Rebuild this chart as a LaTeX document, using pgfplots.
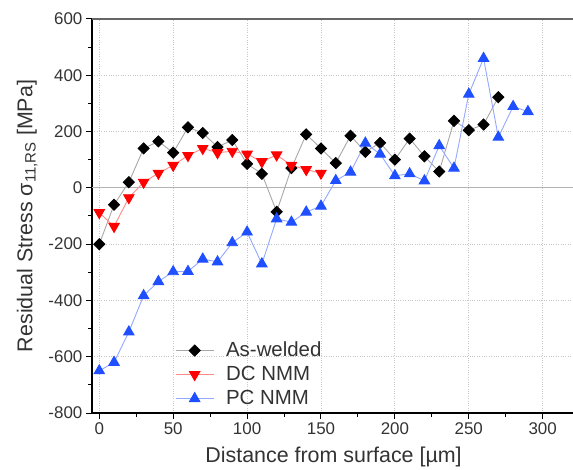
\documentclass[border=0pt]{standalone}
\usepackage{fontspec}
\setmainfont{Liberation Sans}
\usepackage{pgfplots}
\pgfplotsset{compat=1.18}
\definecolor{txt}{HTML}{333333}
\definecolor{awline}{HTML}{A8A8A8}
\definecolor{dcline}{HTML}{FF8A8A}
\definecolor{pcmark}{HTML}{1F4FFF}
\definecolor{pcline}{HTML}{93A8FF}

\begin{document}
\begin{tikzpicture}
  \path[use as bounding box] (-91.9bp,-57bp) rectangle (481.1bp,413bp);
  \begin{axis}[
    at={(0,0)}, anchor=south west,
    scale only axis, width=483.3bp, height=394bp,
    xmin=-5, xmax=322, ymin=-800, ymax=600,
    axis x line*=bottom, axis y line*=left,
    axis line style={black, line width=1.3bp},
    xtick={0,50,...,300}, minor xtick={25,75,...,275},
    ytick={-800,-600,...,600}, minor ytick={-700,-500,...,500},
    tick align=outside,
    major tick length=6bp, minor tick length=4bp,
    tick style={black, line width=1bp},
    grid=major,
    major grid style={gray!45, dotted, line width=0.8bp},
    extra y ticks={0}, extra y tick labels={},
    extra y tick style={grid=major, major grid style={gray!60, solid, line width=1bp}, major tick length=0pt},
    ticklabel style={font=\fontsize{17}{20}\selectfont, text=txt},
    /pgf/number format/assume math mode=true,
    xlabel={Distance from surface [µm]},
    ylabel={Residual Stress σ\textsubscript{11,RS} [MPa]},
    label style={font=\fontsize{21.5}{25}\selectfont, text=txt},
    xlabel style={yshift=-6bp},
    ylabel style={yshift=-2bp},
    legend style={at={(0.172,0.012)}, anchor=south west, draw=none, fill=none,
      inner sep=0bp, row sep=5bp,
      font=\fontsize{20.5}{25}\selectfont, text=txt,
      nodes={inner ysep=0bp, text height=15bp, text depth=4bp},
      /tikz/every odd column/.append style={column sep=10bp}},
    legend cell align=left,
    legend image code/.code={%
      \draw[mark repeat=2, mark phase=2] plot coordinates {(0bp,0bp) (19bp,0bp) (38bp,0bp)};},
  ]
    \addplot[awline, line width=0.9bp, mark=square*, mark size=3.9bp,
      mark options={black, fill=black, rotate=45}] coordinates {
      (0,-200) (10,-60) (20,20) (30,140) (40,165) (50,125) (60,215) (70,195)
      (80,145) (90,170) (100,85) (110,50) (120,-85) (130,70) (140,190) (150,140)
      (160,88) (170,185) (180,128) (190,160) (200,100) (210,175) (220,112)
      (230,58) (240,238) (250,205) (260,225) (270,322)};
    \addlegendentry{As-welded}
    \addplot[dcline, line width=0.9bp, mark=triangle*, mark size=6bp,
      mark options={red, fill=red, rotate=180}] coordinates {
      (0,-88) (10,-137) (20,-35) (30,20) (40,52) (50,80) (60,115) (70,140)
      (80,125) (90,130) (100,120) (110,93) (120,117) (130,80) (140,65) (150,52)};
    \addlegendentry{DC NMM}
    \addplot[pcline, line width=0.9bp, mark=triangle*, mark size=6bp,
      mark options={pcmark, fill=pcmark}] coordinates {
      (0,-650) (10,-620) (20,-512) (30,-383) (40,-333) (50,-298) (60,-297)
      (70,-253) (80,-263) (90,-195) (100,-157) (110,-270) (120,-110) (130,-122)
      (140,-86) (150,-65) (160,26) (170,56) (180,159) (190,120) (200,43)
      (210,50) (220,25) (230,150) (240,70) (250,333) (260,460) (270,180)
      (280,289) (290,271)};
    \addlegendentry{PC NMM}
    \draw[gray!80!black, line width=1.5bp] (rel axis cs:0,1) -- (rel axis cs:1,1);
  \end{axis}
\end{tikzpicture}
\end{document}
